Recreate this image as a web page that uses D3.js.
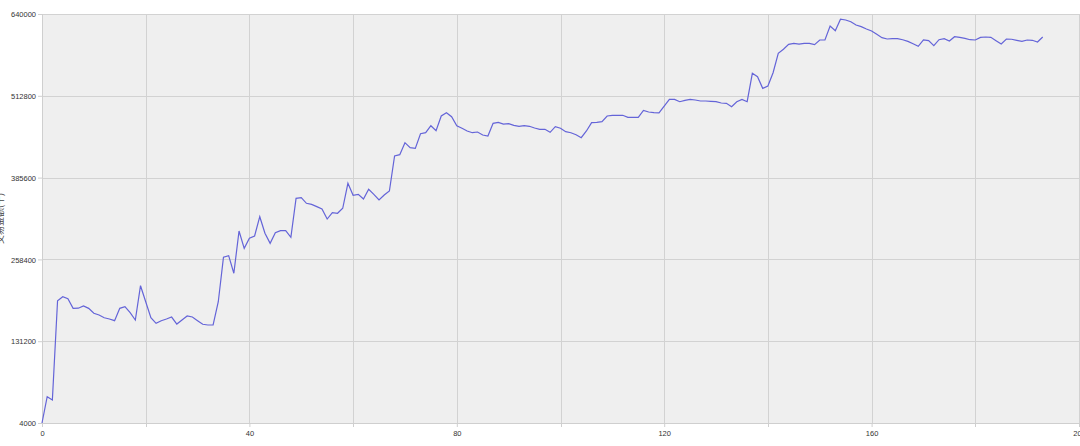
<!DOCTYPE html>
<html>
<head>
<meta charset="utf-8">
<script src="https://cdn.jsdelivr.net/npm/d3@7"></script>
<style>
  body { margin: 0; background: #fff; }
  .tick text { font-family: "Liberation Sans", Arial, sans-serif; font-size: 7.5px; fill: #333; }
</style>
</head>
<body>
<div class="container"></div>
<script>
const yTicks = [4000, 131200, 258400, 385600, 512800, 640000];
const xTicks = [0, 40, 80, 120, 160, 200];
const yLabel = '交易金额(千)';

const values = [
  4000, 44900, 39800, 194200, 200400, 197300, 182300, 182500, 185900, 182300,
  174600, 171900, 167700, 165700, 163100, 182300, 184900, 175500, 164200, 217500,
  192600, 167700, 159000, 163100, 165700, 168800, 157900, 164200, 170400, 168800,
  163100, 157500, 156400, 156400, 192600, 261700, 264200, 236800, 302600, 275600,
  291200, 294800, 324800, 299000, 283400, 300000, 303000, 303000, 292700, 353400,
  354400, 345600, 344000, 340400, 336800, 321200, 331000, 330100, 337900, 376700,
  358100, 359600, 352300, 367400, 359600, 350800, 358500, 364800, 419200, 421200,
  439900, 432100, 431100, 453900, 455400, 466300, 458500, 481400, 486500, 480300,
  466300, 462300, 458100, 455400, 456500, 451800, 450300, 470000, 471500, 468900,
  469400, 466900, 465400, 466300, 465400, 462700, 460700, 460700, 456000, 464800,
  462300, 457000, 455400, 452300, 447600, 458100, 471000, 471500, 472500, 481400,
  482500, 482500, 482500, 479400, 479400, 479400, 490200, 487600, 486500, 486100,
  496900, 507300, 507300, 503600, 505800, 507300, 506300, 504700, 504700, 504200,
  503600, 501600, 501100, 495900, 503600, 507300, 503600, 547800, 542500, 524400,
  528000, 548700, 578900, 585100, 592900, 594400, 593300, 594400, 594400, 592300,
  599600, 599600, 621300, 614000, 631800, 630700, 628000, 622900, 620300, 616700,
  613600, 608400, 603200, 601100, 601600, 601600, 600000, 597500, 593800, 589800,
  599600, 598500, 590700, 600000, 601600, 598000, 604700, 603700, 602100, 600000,
  599600, 603700, 604200, 603700, 598500, 593300, 601100, 600700, 599100, 597500,
  599600, 599100, 596500, 604200
];

const width = 1080, height = 446;
const margin = {top: 14, right: 1, bottom: 23, left: 42};
const innerW = width - margin.left - margin.right;
const innerH = height - margin.top - margin.bottom;

const svg = d3.select('.container')
  .append('svg')
  .attr('width', width)
  .attr('height', height);

const xScale = d3.scaleLinear().domain([0, 200]).range([margin.left, margin.left + innerW]);
const yScale = d3.scaleLinear().domain([4000, 640000]).range([margin.top + innerH, margin.top]);

svg.append('rect')
  .attr('x', margin.left).attr('y', margin.top)
  .attr('width', innerW).attr('height', innerH)
  .attr('fill', '#efefef');

// grid
svg.append('g').selectAll('line')
  .data(d3.range(20, 201, 20))
  .enter().append('line')
  .attr('x1', d => Math.round(xScale(d)) + 0.5).attr('x2', d => Math.round(xScale(d)) + 0.5)
  .attr('y1', margin.top).attr('y2', margin.top + innerH)
  .attr('stroke', '#d2d2d2');

svg.append('g').selectAll('line')
  .data(yTicks.slice(1))
  .enter().append('line')
  .attr('x1', margin.left).attr('x2', margin.left + innerW)
  .attr('y1', d => Math.round(yScale(d)) + 0.5).attr('y2', d => Math.round(yScale(d)) + 0.5)
  .attr('stroke', '#d2d2d2');

const yAxis = d3.axisLeft(yScale).tickValues(yTicks).tickSize(4).tickPadding(2).tickFormat(d3.format('d'));
const xAxis = d3.axisBottom(xScale).tickValues(xTicks).tickSize(4).tickPadding(4).tickFormat(d3.format('d'));

const gy = svg.append('g')
  .attr('transform', `translate(${margin.left}, 0)`)
  .call(yAxis);
const gx = svg.append('g')
  .attr('transform', `translate(0, ${margin.top + innerH})`)
  .call(xAxis);

[gx, gy].forEach(g => {
  g.select('.domain').attr('stroke', '#cfcfcf');
  g.selectAll('.tick line').attr('stroke', '#cfcfcf');
});
gy.selectAll('.tick text').attr('dy', '0.35em');

// minor x ticks at 20s
svg.append('g').selectAll('line')
  .data(d3.range(20, 201, 40))
  .enter().append('line')
  .attr('x1', d => Math.round(xScale(d)) + 0.5).attr('x2', d => Math.round(xScale(d)) + 0.5)
  .attr('y1', margin.top + innerH).attr('y2', margin.top + innerH + 4)
  .attr('stroke', '#cfcfcf');

svg.append('text')
  .attr('transform', `translate(3, ${margin.top + innerH / 2}) rotate(-90)`)
  .attr('text-anchor', 'middle')
  .style('font-family', '"Noto Sans CJK SC", sans-serif')
  .style('font-size', '9px')
  .style('fill', '#444')
  .text(yLabel);

const line = d3.line()
  .x((d, i) => xScale(i))
  .y(d => yScale(d));

svg.append('path')
  .datum(values)
  .attr('d', line)
  .attr('fill', 'none')
  .attr('stroke', '#6464d8')
  .attr('stroke-width', 1.2);
</script>
</body>
</html>
